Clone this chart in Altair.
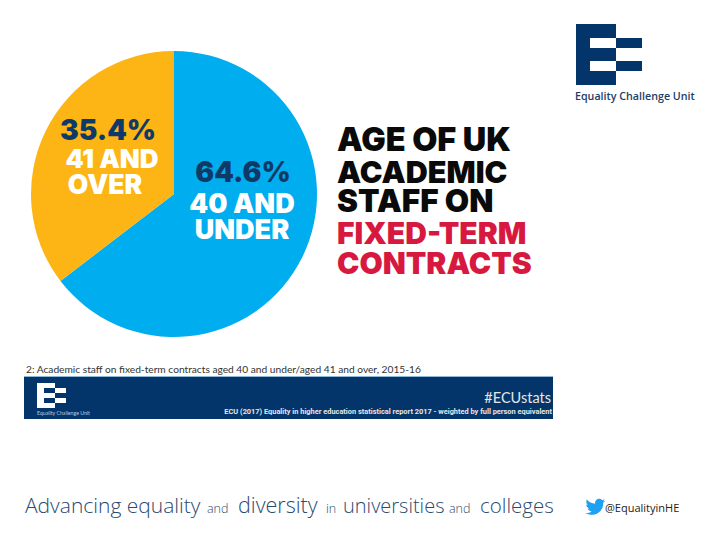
import altair as alt
import pandas as pd

age_groups = ["40 and under", "41 and over"]
shares = [64.6, 35.4]
slice_colours = ["#00aeef", "#fdb515"]

NAVY = "#0f3a68"
BANNER = "#04356a"
BIRD = ("M23.953 4.57a10 10 0 0 1 -2.825 .775 4.958 4.958 0 0 0 2.163 -2.723c-.951 .555 -2.005 .959 -3.127 1.184"
        "a4.92 4.92 0 0 0 -8.384 4.482C7.69 8.095 4.067 6.13 1.64 3.162a4.822 4.822 0 0 0 -.666 2.475"
        "c0 1.71 .87 3.213 2.188 4.096a4.904 4.904 0 0 1 -2.228 -.616v.06a4.923 4.923 0 0 0 3.946 4.827"
        " 4.996 4.996 0 0 1 -2.212 .085 4.936 4.936 0 0 0 4.604 3.417 9.867 9.867 0 0 1 -6.102 2.105"
        "c-.39 0 -.779 -.023 -1.17 -.067a13.995 13.995 0 0 0 7.557 2.209c9.053 0 13.998 -7.496 13.998 -13.985"
        " 0 -.21 0 -.42 -.015 -.63A9.935 9.935 0 0 0 24 4.59z")


def px(v):
    return alt.value(v - 8)


def label(s, x, y, size, color, font="Inter", weight=400, align="left", **kw):
    return alt.Chart(pd.DataFrame({"t": [s]})).mark_text(
        font=font, fontSize=size, fontWeight=weight, color=color, align=align,
        baseline="alphabetic", **kw
    ).encode(x=px(x), y=px(y), text="t:N")


def box(x, x2, y, y2, color):
    return alt.Chart(pd.DataFrame({"a": [0]})).mark_rect(color=color).encode(
        x=px(x), x2=px(x2), y=px(y), y2=px(y2)
    )


pie_df = pd.DataFrame({"group": age_groups, "share": shares, "ord": [0, 1]})
pie = alt.Chart(pie_df).mark_arc(outerRadius=143).encode(
    theta=alt.Theta("share:Q", stack=True),
    color=alt.Color("group:N", scale=alt.Scale(domain=age_groups, range=slice_colours), legend=None),
    order=alt.Order("ord:Q"),
    x=px(174), y=px(194),
)

layers = [pie]

# pie labels
layers += [
    label("35.4%", 108, 140, 28, NAVY, weight=900, align="center"),
    label("41 AND", 112, 168, 26, "white", weight=900, align="center"),
    label("OVER", 105, 194, 26.5, "white", weight=900, align="center"),
    label("64.6%", 243, 182, 28, NAVY, weight=900, align="center"),
    label("40 AND", 242, 213, 27, "white", weight=900, align="center"),
    label("UNDER", 242, 239, 27, "white", weight=900, align="center"),
]

# headline
layers += [
    label("AGE OF UK", 337, 151, 32.5, "#0a0a0a", weight=900),
    label("ACADEMIC", 337, 183, 30.5, "#0a0a0a", weight=900),
    label("STAFF ON", 337, 212, 31.5, "#0a0a0a", weight=900),
    label("FIXED-TERM", 337, 244, 30, "#d7193f", weight=900),
    label("CONTRACTS", 337, 274, 30, "#d7193f", weight=900),
]

# ECU logo, top right
layers += [
    box(576, 616, 24, 85, BANNER),
    box(590, 616, 38, 48, "white"),
    box(590, 616, 61, 71, "white"),
    box(616, 642, 38, 48, BANNER),
    box(616, 642, 61, 71, BANNER),
    label("Equality Challenge Unit", 575, 100, 10.7, "#1d3c6a", font="Open Sans", weight=600),
]

# banner
layers += [
    label("2: Academic staff on fixed-term contracts aged 40 and under/aged 41 and over, 2015-16",
          26, 373, 10.2, "#333333", font="Lato"),
    box(24, 553, 376, 419, BANNER),
    box(24, 553, 376, 377, "#8fb8d8"),
    box(37, 55, 383, 408, "white"),
    box(44, 55, 388, 393, BANNER),
    box(44, 55, 398, 403, BANNER),
    box(55, 66, 388, 393, "white"),
    box(55, 66, 398, 403, "white"),
    label("Equality Challenge Unit", 37, 415, 5.2, "#b8cbe0", font="Lato"),
    label("#ECUstats", 551, 403, 14.5, "#e6e6e6", font="Lato", align="right"),
    label("ECU (2017) Equality in higher education statistical report 2017 - weighted by full person equivalent",
          552, 414, 7.4, "#e6e6e6", font="Roboto", weight=700, align="right"),
]

# footer
FOOT = "#2a4a6e"
layers += [
    label("Advancing equality", 25, 513, 21, FOOT, font="Open Sans", weight=300),
    label("and", 207, 513, 12.5, FOOT, font="Open Sans", weight=300),
    label("diversity", 238, 513, 21.5, FOOT, font="Open Sans", weight=300),
    label("in", 326, 513, 12.5, FOOT, font="Open Sans", weight=300),
    label("universities", 343, 513, 20, FOOT, font="Open Sans", weight=300),
    label("and", 449, 513, 12.5, FOOT, font="Open Sans", weight=300),
    label("colleges", 480, 513, 20.5, FOOT, font="Open Sans", weight=300),
    label("@EqualityinHE", 605, 512, 11, "#222222", font="Open Sans"),
]

bird = alt.Chart(pd.DataFrame({"a": [0]})).mark_point(
    shape=BIRD, filled=True, color="#1da1f2", opacity=1, size=2.7
).encode(x=px(585.5), y=px(497))
layers.append(bird)

chart = alt.layer(*layers).properties(
    width=704, height=524, padding=0,
    autosize=alt.AutoSizeParams(type="none"),
).configure_view(stroke=None)

chart.save("out.html", embed_options={"renderer": "svg", "actions": False})
